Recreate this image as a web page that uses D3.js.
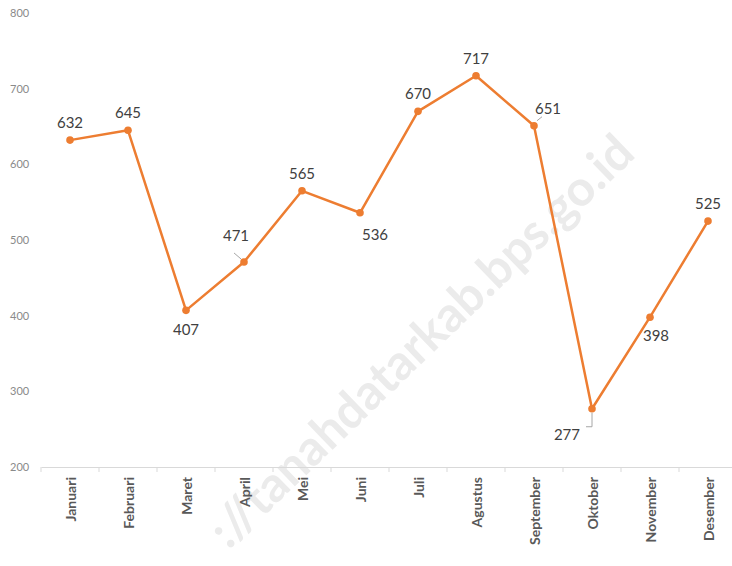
<!DOCTYPE html>
<html>
<head>
<meta charset="utf-8">
<script src="https://cdn.jsdelivr.net/npm/d3@7"></script>
<style>
  body { margin: 0; background: #fff; }
  svg { display: block; font-family: Lato, "Open Sans", sans-serif; }
</style>
</head>
<body>
<svg id="chart" width="732" height="566"></svg>
<script>
// ── data ──
const months = ["Januari", "Februari", "Maret", "April", "Mei", "Juni",
                "Juli", "Agustus", "September", "Oktober", "November", "Desember"];
const values = [632, 645, 407, 471, 565, 536, 670, 717, 651, 277, 398, 525];
const yTicks = [200, 300, 400, 500, 600, 700, 800];

// label placement per point: [dx, dy, anchor, leader]
const labelAt = [
    [0, -17, "middle"], [0, -17, "middle"], [0, 20, "middle"], [-8, -26, "middle", true],
    [0, -17, "middle"], [15, 22, "middle"], [0, -17, "middle"], [0, -17, "middle"],
    [14, -17, "middle", true], [-12, 26, "end", true], [6, 19, "middle"], [0, -17, "middle"]
];

const ORANGE = "#ed7d31";
const svg = d3.select("#chart");

// watermark
svg.append("text")
    .attr("transform", "translate(424,344) rotate(-44)")
    .attr("text-anchor", "middle").attr("dominant-baseline", "middle")
    .attr("font-size", 49).attr("font-weight", 700)
    .attr("fill", "#ebebeb")
    .text("://tanahdatarkab.bps.go.id");

const x = d3.scaleBand().domain(months).range([41, 737]);
const y = d3.scaleLinear().domain([200, 800]).range([467, 13]);

// y tick labels (no axis line)
svg.append("g").selectAll("text").data(yTicks).join("text")
    .attr("x", 10).attr("y", d => y(d) + 4)
    .attr("fill", "#8a8a8a").attr("font-size", 11)
    .text(d => d);

// x axis
const xAx = svg.append("g").attr("transform", `translate(0,${y(200)})`)
    .call(d3.axisBottom(x).tickSize(0).tickFormat(""));
xAx.select(".domain").attr("stroke", "#d9d9d9");
svg.append("g").selectAll("line").data(months.concat(["_end"])).join("line")
    .attr("x1", (d, i) => 41 + i * x.bandwidth()).attr("x2", (d, i) => 41 + i * x.bandwidth())
    .attr("y1", y(200)).attr("y2", y(200) + 5)
    .attr("stroke", "#d9d9d9");

svg.append("g").selectAll("text").data(months).join("text")
    .attr("transform", d => `translate(${x(d) + x.bandwidth() / 2 + 6},${y(200) + 10}) rotate(-90)`)
    .attr("text-anchor", "end")
    .attr("fill", "#595959").attr("font-size", 14).attr("font-weight", 700)
    .text(d => d);

const cx = (d, i) => x(months[i]) + x.bandwidth() / 2;

// line
const line = d3.line().x((d, i) => cx(d, i)).y(d => y(d));
svg.append("path").datum(values)
    .attr("d", line).attr("fill", "none")
    .attr("stroke", ORANGE).attr("stroke-width", 2.5).attr("stroke-linejoin", "round");

svg.append("g").selectAll("circle").data(values).join("circle")
    .attr("cx", cx).attr("cy", d => y(d)).attr("r", 3.8)
    .attr("fill", ORANGE);

// leader lines for offset labels
values.forEach((v, i) => {
    const p = labelAt[i];
    if (!p[3]) return;
    const px = cx(v, i), py = y(v);
    let pts;
    if (i === 3) pts = [[px - 3, py - 3], [px - 10, py - 9]];
    else if (i === 8) pts = [[px + 3, py - 5], [px + 8, py - 9]];
    else pts = [[px, py + 4], [px, py + 18], [px - 6, py + 18]];
    svg.append("path").attr("d", d3.line()(pts))
        .attr("fill", "none").attr("stroke", "#a6a6a6").attr("stroke-width", 1);
});

// data labels
svg.append("g").selectAll("text").data(values).join("text")
    .attr("x", (d, i) => cx(d, i) + labelAt[i][0])
    .attr("y", (d, i) => y(d) + labelAt[i][1] + 5)
    .attr("text-anchor", (d, i) => labelAt[i][2])
    .attr("fill", "#404040").attr("font-size", 15)
    .text(d => d);
</script>
</body>
</html>
